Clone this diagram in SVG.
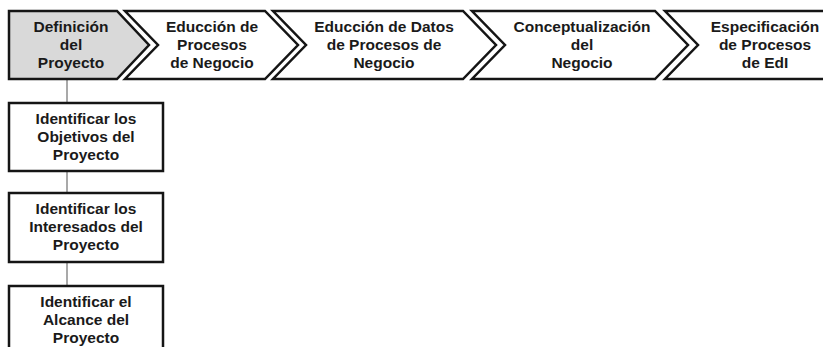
<svg xmlns="http://www.w3.org/2000/svg" width="823" height="347" viewBox="0 0 823 347">
<style>
.shape{fill:#ffffff;stroke:#151515;stroke-width:2.5;stroke-linejoin:miter}
.gray{fill:#d9d9d9}
.t{font-family:"Liberation Sans",Arial,sans-serif;font-weight:bold;font-size:15.5px;fill:#1a1a1a;text-anchor:middle}
.conn{stroke:#8c8c8c;stroke-width:1.5;fill:none}
</style>
<rect width="823" height="347" fill="#ffffff"/>
<g id="connectors">
<line class="conn" x1="67" y1="80" x2="67" y2="103"/>
<line class="conn" x1="67" y1="171" x2="67" y2="193"/>
<line class="conn" x1="67" y1="262" x2="67" y2="286"/>
</g>
<g id="c1">
<path class="shape gray" d="M9,11 L117,11 L149,45 L117,79 L9,79 Z"/>
<text class="t" x="71" y="32">Definición</text>
<text class="t" x="71" y="50">del</text>
<text class="t" x="71" y="68">Proyecto</text>
</g>
<g id="c2">
<path class="shape" d="M125,11 L265,11 L298,45 L265,79 L125,79 L158,45 Z"/>
<text class="t" x="212" y="32">Educción de</text>
<text class="t" x="212" y="50">Procesos</text>
<text class="t" x="212" y="68">de Negocio</text>
</g>
<g id="c3">
<path class="shape" d="M273,11 L463,11 L496,45 L463,79 L273,79 L306,45 Z"/>
<text class="t" x="384" y="32">Educción de Datos</text>
<text class="t" x="384" y="50">de Procesos de</text>
<text class="t" x="384" y="68">Negocio</text>
</g>
<g id="c4">
<path class="shape" d="M472,11 L655,11 L688,45 L655,79 L472,79 L505,45 Z"/>
<text class="t" x="582" y="32">Conceptualización</text>
<text class="t" x="582" y="50">del</text>
<text class="t" x="582" y="68">Negocio</text>
</g>
<g id="c5">
<path class="shape" d="M665,11 L840,11 L840,79 L665,79 L698,45 Z"/>
<text class="t" x="765" y="32">Especificación</text>
<text class="t" x="765" y="50">de Procesos</text>
<text class="t" x="765" y="68">de EdI</text>
</g>
<g id="b1">
<rect class="shape" x="9" y="103" width="154" height="68"/>
<text class="t" x="86" y="124">Identificar los</text>
<text class="t" x="86" y="142">Objetivos del</text>
<text class="t" x="86" y="160">Proyecto</text>
</g>
<g id="b2">
<rect class="shape" x="9" y="193" width="154" height="69"/>
<text class="t" x="86" y="214">Identificar los</text>
<text class="t" x="86" y="232">Interesados del</text>
<text class="t" x="86" y="250">Proyecto</text>
</g>
<g id="b3">
<rect class="shape" x="9" y="286" width="154" height="80"/>
<text class="t" x="86" y="307">Identificar el</text>
<text class="t" x="86" y="325">Alcance del</text>
<text class="t" x="86" y="343">Proyecto</text>
</g>
</svg>
